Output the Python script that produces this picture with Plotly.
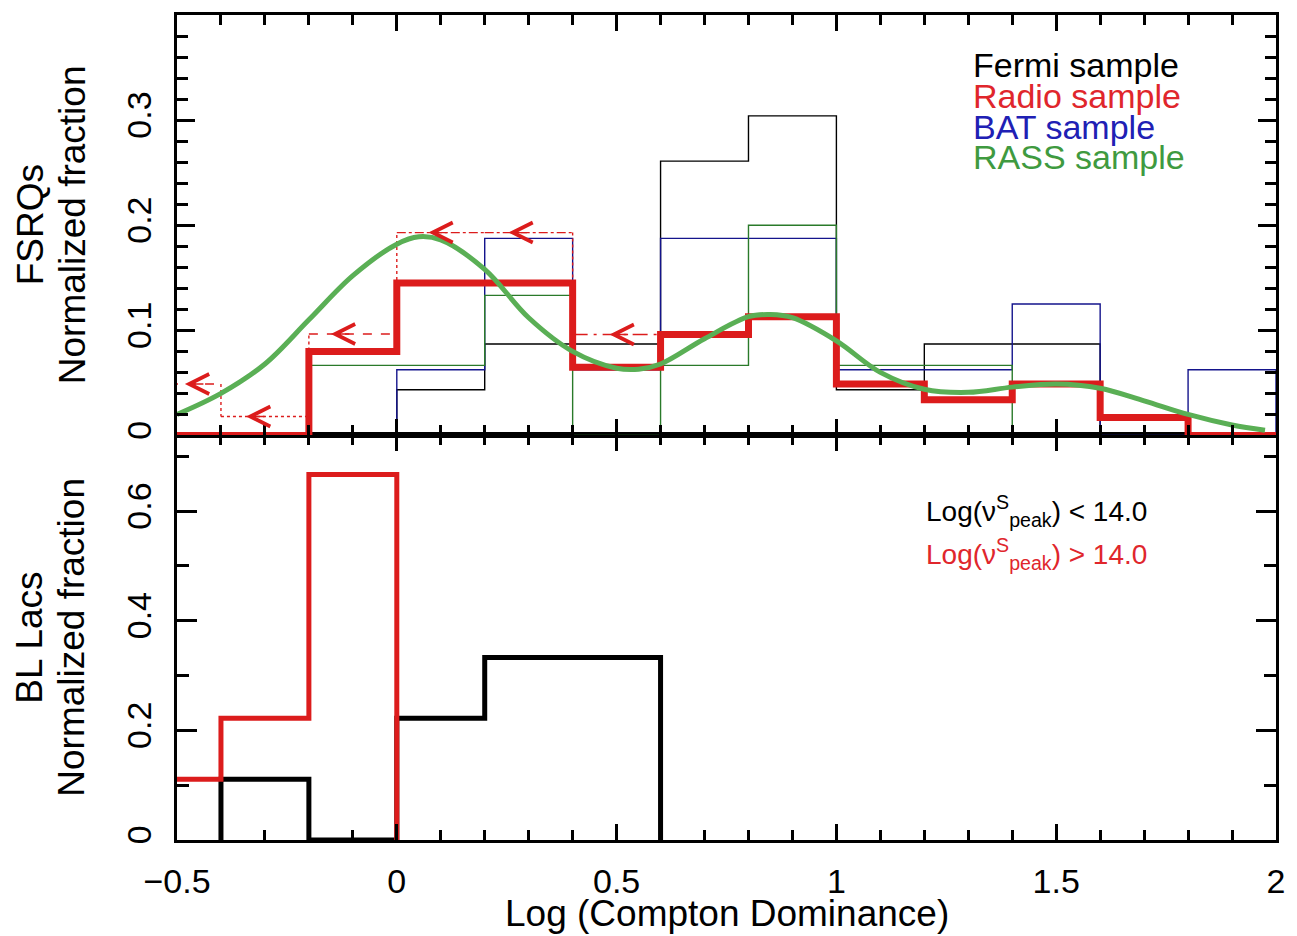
import plotly.graph_objects as go

# ---------------------------------------------------------------------------
# Data: log Compton dominance histograms, 0.2 dex bins
# ---------------------------------------------------------------------------
bin_edges = [-0.6, -0.4, -0.2, 0.0, 0.2, 0.4, 0.6, 0.8, 1.0, 1.2, 1.4, 1.6, 1.8, 2.0]

# FSRQs, normalized fraction per bin
fermi_frac = [0, 0, 0, 0.0435, 0.087, 0.087, 0.261, 0.304, 0.0435, 0.087, 0.087, 0, 0]
radio_frac = [0, 0, 0.080, 0.145, 0.145, 0.065, 0.096, 0.113, 0.049, 0.034, 0.049, 0.017, 0]
bat_frac = [0, 0, 0, 0.0625, 0.1875, 0.0625, 0.1875, 0.1875, 0.0625, 0.0625, 0.125, 0, 0.0625]
rass_frac = [0, 0, 0.0667, 0.0667, 0.1333, 0, 0.0667, 0.200, 0.0667, 0.0667, 0, 0, 0]

# Radio sample upper limits (first six bins)
radio_limit = [0.049, 0.018, 0.0965, 0.193, 0.193, 0.096]
radio_limit_arrow_x = [-0.482, -0.343, -0.150, 0.072, 0.254, 0.484]

# RASS smoothed distribution
rass_curve_x = [-0.50, -0.40, -0.30, -0.20, -0.10, 0.00, 0.05, 0.10, 0.20, 0.30,
                0.40, 0.50, 0.55, 0.60, 0.70, 0.80, 0.85, 0.90, 1.00, 1.10,
                1.20, 1.30, 1.40, 1.50, 1.60, 1.70, 1.80, 1.90, 1.975]
rass_curve_y = [0.020, 0.040, 0.068, 0.110, 0.152, 0.182, 0.189, 0.186, 0.158, 0.112,
                0.080, 0.064, 0.063, 0.068, 0.092, 0.113, 0.115, 0.112, 0.090, 0.060,
                0.044, 0.041, 0.046, 0.049, 0.045, 0.033, 0.020, 0.010, 0.005]

# BL Lacs, split by synchrotron peak frequency
bl_low_frac = [0, 0.111, 0, 0.222, 0.333, 0.333]
bl_high_frac = [0.111, 0.222, 0.667, 0, 0, 0]

x_tick_vals = [-0.5, 0, 0.5, 1, 1.5, 2]
top_y_tick_vals = [0, 0.1, 0.2, 0.3]
bottom_y_tick_vals = [0, 0.2, 0.4, 0.6]

# ---------------------------------------------------------------------------
BLACK = "#000000"
RED = "#dc1c1c"
BLUE = "#14148c"
GREEN_THIN = "#2a7a2a"
GREEN_CURVE = "#5aaf55"
FONT = "Liberation Sans, Arial, Helvetica, sans-serif"


def step_xy(edges, vals, trim=True):
    """Outline of a histogram as a polyline (for line_shape='hv')."""
    n = len(vals)
    lo, hi = 0, n - 1
    if trim:
        while lo < n and vals[lo] == 0:
            lo += 1
        while hi >= 0 and vals[hi] == 0:
            hi -= 1
    xs = [edges[lo]]
    ys = [0]
    for i in range(lo, hi + 1):
        xs.append(edges[i])
        ys.append(vals[i])
    xs.append(edges[hi + 1])
    ys.append(0)
    return xs, ys


fig = go.Figure()

# --- top panel: FSRQs ---
for vals, color, width, trim in [
    (fermi_frac, BLACK, 1.4, True),
    (bat_frac, BLUE, 1.4, True),
    (rass_frac, GREEN_THIN, 1.4, True),
]:
    xs, ys = step_xy(bin_edges, vals, trim)
    fig.add_trace(go.Scatter(x=xs, y=ys, mode="lines", line=dict(color=color, width=width, shape="hv"),
                             xaxis="x2", yaxis="y2", showlegend=False, hoverinfo="skip"))

# upper limits of the radio sample
limit_dash = ["dash", "dot", "dash", "dashdot", "dashdot", "longdashdot"]
for i, lim in enumerate(radio_limit):
    fig.add_trace(go.Scatter(x=[bin_edges[i], bin_edges[i + 1]], y=[lim, lim], mode="lines",
                             line=dict(color=RED, width=1.4, dash=limit_dash[i]),
                             xaxis="x2", yaxis="y2", showlegend=False, hoverinfo="skip"))
for i in range(1, len(radio_limit)):
    fig.add_trace(go.Scatter(x=[bin_edges[i], bin_edges[i]], y=[radio_limit[i - 1], radio_limit[i]],
                             mode="lines", line=dict(color=RED, width=1.4, dash="dot"),
                             xaxis="x2", yaxis="y2", showlegend=False, hoverinfo="skip"))

xs, ys = step_xy(bin_edges, radio_frac, trim=False)
fig.add_trace(go.Scatter(x=xs, y=ys, mode="lines", line=dict(color=RED, width=7, shape="hv"),
                         xaxis="x2", yaxis="y2", showlegend=False, hoverinfo="skip"))

fig.add_trace(go.Scatter(x=rass_curve_x, y=rass_curve_y, mode="lines",
                         line=dict(color=GREEN_CURVE, width=5, shape="spline", smoothing=1.0),
                         xaxis="x2", yaxis="y2", showlegend=False, hoverinfo="skip"))

for xa, lim in zip(radio_limit_arrow_x, radio_limit):
    fig.add_annotation(x=xa, y=lim, xref="x2", yref="y2", text="", showarrow=True,
                       ax=20, ay=0, arrowhead=5, arrowsize=2.8, arrowwidth=1.4,
                       arrowcolor=RED, standoff=0)

# --- bottom panel: BL Lacs ---
xs, ys = step_xy(bin_edges, bl_low_frac)
fig.add_trace(go.Scatter(x=xs, y=ys, mode="lines", line=dict(color=BLACK, width=5, shape="hv"),
                         xaxis="x", yaxis="y", showlegend=False, hoverinfo="skip"))
xs, ys = step_xy(bin_edges, bl_high_frac)
fig.add_trace(go.Scatter(x=xs, y=ys, mode="lines", line=dict(color=RED, width=5, shape="hv"),
                         xaxis="x", yaxis="y", showlegend=False, hoverinfo="skip"))

# ---------------------------------------------------------------------------
split = 406 / 828

axis_common = dict(
    showline=True, linecolor=BLACK, linewidth=3, mirror="ticks",
    ticks="inside", tickcolor=BLACK, tickwidth=2.5, showgrid=False, zeroline=False,
    tickfont=dict(family=FONT, size=34, color=BLACK),
)

fig.update_layout(
    width=1297, height=936,
    margin=dict(l=177, r=15, t=12, b=96),
    paper_bgcolor="white", plot_bgcolor="white",
    font=dict(family=FONT, color=BLACK),
    xaxis=dict(axis_common, domain=[0, 1], anchor="y", range=[-0.5, 2.0],
               tickmode="array", tickvals=x_tick_vals, ticklen=16, ticklabelstandoff=9,
               minor=dict(ticks="inside", tickmode="linear", tick0=0, dtick=0.1, ticklen=10,
                          tickwidth=2.5, tickcolor=BLACK)),
    yaxis=dict(axis_common, domain=[0, split], anchor="x", range=[0, 0.738],
               tickmode="array", tickvals=bottom_y_tick_vals, ticklen=20, tickangle=-90,
               ticklabelstandoff=9,
               minor=dict(ticks="inside", tickmode="linear", tick0=0, dtick=0.1, ticklen=12,
                          tickwidth=2.5, tickcolor=BLACK)),
    xaxis2=dict(axis_common, domain=[0, 1], anchor="y2", range=[-0.5, 2.0], showticklabels=False,
                tickmode="array", tickvals=x_tick_vals, ticklen=16,
                minor=dict(ticks="inside", tickmode="linear", tick0=0, dtick=0.1, ticklen=10,
                           tickwidth=2.5, tickcolor=BLACK)),
    yaxis2=dict(axis_common, domain=[split, 1], anchor="x2", range=[0, 0.4],
                tickmode="array", tickvals=top_y_tick_vals, ticklen=18, tickangle=-90,
                ticklabelstandoff=9,
                minor=dict(ticks="inside", tickmode="linear", tick0=0, dtick=0.02, ticklen=11,
                           tickwidth=2.5, tickcolor=BLACK)),
)

# axis titles
title_font = dict(family=FONT, size=37, color=BLACK)
top_mid = (split + 1) / 2
bottom_mid = split / 2
for txt, xs_px, ymid in [("FSRQs", -147, top_mid), ("Normalized fraction", -105, top_mid),
                         ("BL Lacs", -147, bottom_mid), ("Normalized fraction", -105, bottom_mid)]:
    fig.add_annotation(text=txt, xref="paper", yref="paper", x=0, y=ymid, xshift=xs_px,
                       xanchor="center", yanchor="middle", textangle=-90, showarrow=False,
                       font=title_font)
fig.add_annotation(text="Log (Compton Dominance)", xref="paper", yref="paper", x=0.5, y=0,
                   yshift=-73, xanchor="center", yanchor="middle", showarrow=False, font=title_font)

# sample labels (top panel)
sample_labels = [("Fermi sample", BLACK), ("Radio sample", "#e0262c"),
                 ("BAT sample", "#2020b4"), ("RASS sample", "#3f9a40")]
for i, (txt, col) in enumerate(sample_labels):
    fig.add_annotation(text=txt, xref="paper", yref="paper", x=(975 - 177) / 1105,
                       y=(840 - 62 - 31 * i) / 828, xanchor="left", yanchor="middle",
                       showarrow=False, font=dict(family=FONT, size=34, color=col))

# peak-frequency labels (bottom panel)
peak_labels = [("Log(\u03bd<sup>S</sup><sub>peak</sub>) &lt; 14.0", BLACK, 510),
               ("Log(\u03bd<sup>S</sup><sub>peak</sub>) &gt; 14.0", "#e0262c", 553)]
for txt, col, ypx in peak_labels:
    fig.add_annotation(text=txt, xref="paper", yref="paper", x=(928 - 177) / 1105,
                       y=(840 - ypx) / 828, xanchor="left", yanchor="middle",
                       showarrow=False, font=dict(family=FONT, size=28, color=col))

fig.write_html("out.html")
